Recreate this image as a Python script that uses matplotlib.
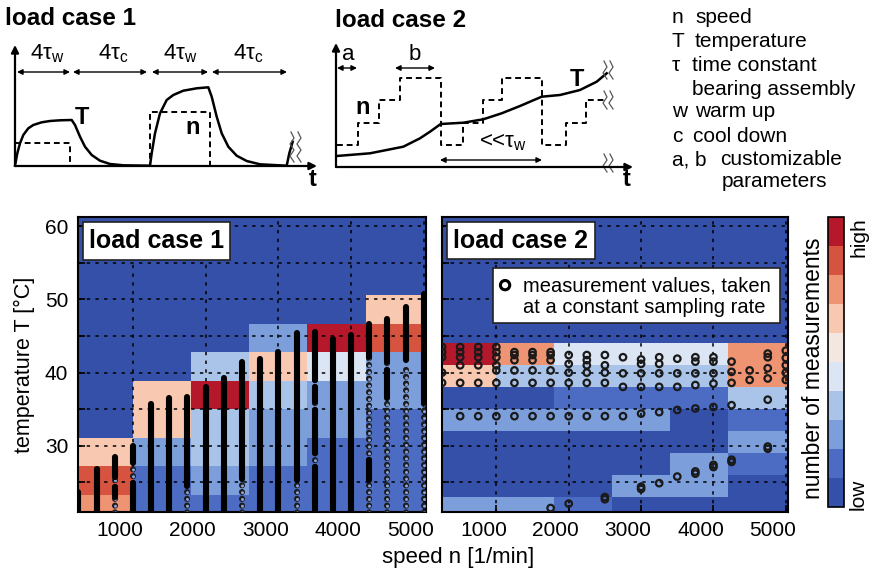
import numpy as np
import matplotlib
matplotlib.use('Agg')
import matplotlib.pyplot as plt
from matplotlib.colors import ListedColormap, BoundaryNorm
from matplotlib.cm import ScalarMappable
from matplotlib.patches import Rectangle
import matplotlib.transforms as mtransforms

plt.rcParams['font.family'] = ['Liberation Sans', 'DejaVu Sans']
plt.rcParams['mathtext.fontset'] = 'custom'
plt.rcParams['mathtext.rm'] = 'Liberation Sans'
plt.rcParams['mathtext.it'] = 'Liberation Sans:italic'
plt.rcParams['mathtext.bf'] = 'Liberation Sans:bold'

# ---------------------------------------------------------------- data
level_colors = ['#3550a9', '#4b6cc2', '#7c9fdc', '#aac4e9', '#dce5f3',
                '#f4e6e0', '#f8c8b1', '#ee9472', '#d6543f', '#b5172b']

speed_edges = [0, 1000, 1800, 2600, 3400, 4200, 5100]

lc1_temp_edges = [19.4, 23.3, 27.2, 31.1, 35.0, 38.9, 42.8, 46.7, 50.6, 54.5, 58.4, 62.3]
lc1_levels = [
    [7, 1, 1, 1, 1, 1],
    [8, 1, 2, 1, 1, 1],
    [6, 2, 3, 2, 1, 1],
    [0, 6, 3, 2, 2, 1],
    [0, 6, 9, 3, 2, 2],
    [0, 0, 3, 6, 4, 2],
    [0, 0, 0, 2, 9, 8],
    [0, 0, 0, 0, 0, 6],
    [0, 0, 0, 0, 0, 0],
    [0, 0, 0, 0, 0, 0],
    [0, 0, 0, 0, 0, 0],
]

lc2_temp_edges = [17, 20, 23, 26, 29, 32, 35, 38, 41, 44, 62.3]
lc2_levels = [
    [0, 0, 0, 0, 0, 0],
    [2, 2, 1, 0, 0, 0],
    [0, 0, 0, 2, 2, 0],
    [0, 0, 0, 0, 2, 1],
    [0, 0, 0, 0, 0, 2],
    [2, 2, 2, 2, 0, 1],
    [0, 0, 1, 1, 1, 3],
    [6, 3, 3, 3, 3, 7],
    [9, 7, 4, 4, 4, 7],
    [0, 0, 0, 0, 0, 0],
]

# load case 1 measurement columns (dense / sparse temperature ranges per speed)
lc1_speeds = [250, 500, 750, 1000, 1250, 1500, 1750, 2000, 2250, 2500,
              2750, 3000, 3250, 3500, 3750, 4000, 4250, 4500, 4750, 5000]
lc1_dense = [
    [(19, 23.7)],
    [(19, 26.8)],
    [(25.8, 28.5), (23.0, 24.4)],
    [(27.6, 30.0), (19, 24.9)],
    [(19, 35.7)],
    [(19, 36.5)],
    [(24.5, 36.7)],
    [(19, 38.1)],
    [(19, 39.2)],
    [(25.4, 41.4)],
    [(19, 41.9)],
    [(19, 42.8)],
    [(25.3, 45.4)],
    [(39.0, 45.6), (36.0, 38.0), (29.0, 34.9), (19, 27.1)],
    [(19, 44.6)],
    [(19, 45.1)],
    [(42.1, 46.7), (25.3, 28.0)],
    [(41.4, 47.3), (36.6, 40.3)],
    [(41.7, 49.0)],
    [(35.8, 50.8)],
]
lc1_sparse = [
    [], [], [(19, 23.0), (24.4, 25.8)], [(24.9, 27.6)], [], [], [(19, 24.5)], [], [],
    [(19, 25.4)], [], [], [(19, 25.3)],
    [(38.0, 39.0), (34.9, 36.0), (27.1, 29.0)], [], [],
    [(28.0, 42.1), (19, 25.3)], [(19, 36.6), (40.3, 41.4)], [(19, 40.8)], [(19, 35.8)],
]

# load case 2 measurement points (speed -> temperatures)
lc2_speeds = [250, 500, 750, 1000, 1250, 1500, 1750, 2000, 2250, 2500,
              2750, 3000, 3250, 3500, 3750, 4000, 4250, 4500, 4750, 5000]
lc2_temps = [
    [43.5, 42.8, 42.1, 40.0, 38.6],
    [43.5, 42.8, 42.1, 41.0, 38.6, 34.05],
    [43.5, 42.8, 42.1, 41.0, 38.6, 34.05],
    [43.5, 42.8, 42.1, 41.0, 40.3, 38.6, 34.05],
    [42.8, 42.4, 41.7, 40.3, 38.6, 34.05],
    [42.8, 42.4, 41.7, 40.3, 38.6, 34.05],
    [42.8, 42.4, 41.7, 40.3, 38.6, 34.05, 21.5],
    [42.4, 41.2, 40.0, 38.6, 34.05, 22.1],
    [42.4, 41.7, 41.0, 40.0, 38.6, 34.05],
    [42.4, 41.0, 40.0, 38.6, 34.05, 23.0, 22.7],
    [42.1, 39.9, 38.05, 34.05],
    [41.8, 41.2, 39.9, 38.05, 34.4, 24.4, 24.1],
    [42.1, 41.2, 39.9, 38.05, 34.6, 24.9],
    [41.9, 39.9, 38.05, 34.9, 25.8],
    [42.1, 41.5, 39.9, 38.3, 35.1, 26.5, 26.2],
    [42.1, 41.5, 39.9, 38.5, 35.3, 27.4, 27.1],
    [41.5, 40.1, 38.6, 35.55, 28.1, 27.8],
    [40.3, 39.0],
    [42.6, 42.1, 40.6, 39.2, 36.3, 29.9, 29.6],
    [43.0, 42.0, 41.0, 40.0, 39.0],
]

x_ticks = [1000, 2000, 3000, 4000, 5000]
y_ticks = [25, 30, 35, 40, 45, 50, 55, 60]
y_ticklabels = ['', '30', '', '40', '', '50', '', '60']

# schematic curves (drawing units)
sch1_T_t = [0, 2.3, 5, 8.3, 13.3, 18.3, 26.7, 35, 45, 56.7, 60, 65, 70, 76.7, 85, 95, 108.3,
            135, 136.7, 140, 145, 151.7, 158.3, 168.3, 181.7, 193.3, 196.7, 201.7, 206.7,
            213.3, 221.7, 231.7, 245, 271.7, 274.3, 277.7]
sch1_T_v = [0.3, 12.7, 22.7, 31, 37.7, 41, 43.7, 45, 45.7, 46, 41, 29.3, 19.3, 11, 5.3, 2, 0.7,
            0.3, 12.7, 32.7, 52.7, 66, 71, 75.3, 77.7, 78.7, 69.3, 49.3, 32.7,
            19.3, 10.3, 5, 1.7, 0.3, 12.7, 24.3]
sch1_n_t = [0, 55, 55, 135, 135, 195, 195, 272]
sch1_n_v = [22.7, 22.7, 0, 0, 54.3, 54.3, 0, 0]

sch2_n_t = [0.7, 22.3, 22.3, 43.3, 43.3, 64, 64, 104.7, 104.7, 127.3, 127.3, 146.7, 146.7,
            165.7, 165.7, 205.7, 205.7, 230, 230, 250, 250, 269]
sch2_n_v = [22, 22, 43.7, 43.7, 67, 67, 89.3, 89.3, 22, 22, 43.7, 43.7, 67, 67, 89.3, 89.3,
            22, 22, 43.7, 43.7, 67, 67]
sch2_T_t = [0.7, 34, 67.3, 84, 94, 104.7, 127.3, 147.3, 165.7, 184, 205.7, 224, 244, 260.7, 270.7]
sch2_T_v = [11, 13.7, 20.3, 28.7, 35.3, 43, 44.3, 47.7, 53.7, 61, 70.3, 72, 77, 85.3, 93.7]

# ---------------------------------------------------------------- figure
W, H = 876, 573
fig = plt.figure(figsize=(W / 100, H / 100), dpi=100)


def ax_px(x0, y0, x1, y1):
    return fig.add_axes([x0 / W, 1 - y1 / H, (x1 - x0) / W, (y1 - y0) / H])


def ftext(x, y, s, **kw):
    fig.text(x / W, 1 - y / H, s, **kw)


cmap = ListedColormap(level_colors)
norm = BoundaryNorm(np.arange(-0.5, 10.5, 1), cmap.N)
XLIM = (245, 5030)
YLIM = (21, 61.3)
offset = mtransforms.ScaledTranslation(-13 / 100, 0, fig.dpi_scale_trans)


def style_panel(ax, show_ylabels):
    ax.set_xlim(*XLIM)
    ax.set_ylim(*YLIM)
    ax.set_xticks(x_ticks)
    ax.set_xticklabels([str(v) for v in x_ticks])
    ax.set_yticks(y_ticks)
    if show_ylabels:
        ax.set_yticklabels(y_ticklabels)
    else:
        ax.set_yticklabels([])
    ax.tick_params(direction='in', length=5, width=1.2, labelsize=15, pad=7,
                   colors='black')
    ax.grid(True, color='black', lw=1.1, linestyle=(0, (2.2, 3.5)))
    for sp in ax.spines.values():
        sp.set_linewidth(1.5)
    for t in ax.xaxis.get_major_ticks():
        t.label1.set_transform(t.label1.get_transform() + offset)


def box(ax, x0, y0, x1, y1):
    ax.add_patch(Rectangle((x0, y0), x1 - x0, y1 - y0, transform=ax.transAxes,
                           facecolor='white', edgecolor='#222222', lw=1.2, zorder=6))


# ---------------- load case 1 heat map
ax1 = ax_px(78, 216.7, 426, 511.7)
ax1.pcolormesh(speed_edges, lc1_temp_edges, np.array(lc1_levels), cmap=cmap, norm=norm,
               zorder=0)
for sp, dense, sparse in zip(lc1_speeds, lc1_dense, lc1_sparse):
    for lo, hi in sparse:
        ax1.plot([sp, sp], [lo, hi], color='#1c1c1c', lw=4.4,
                 linestyle=(0, (0.01, 1.1)), dash_capstyle='round', zorder=3)
        ax1.plot([sp, sp], [lo, hi], color='#8aa2dc', lw=2.2,
                 linestyle=(0, (0.01, 1.1 * 4.4 / 2.2)), dash_capstyle='round', zorder=3)
    for lo, hi in dense:
        ax1.plot([sp, sp], [lo, hi], color='black', lw=4.4, solid_capstyle='round',
                 zorder=3)
style_panel(ax1, True)
box(ax1, 0.0144, 0.853, 0.4368, 0.983)
ax1.text(0.2256, 0.918, 'load case 1', transform=ax1.transAxes, ha='center', va='center',
         fontsize=18, fontweight='bold', zorder=7)

# ---------------- load case 2 heat map
ax2 = ax_px(441.7, 216.7, 788, 511.7)
ax2.pcolormesh(speed_edges, lc2_temp_edges, np.array(lc2_levels), cmap=cmap, norm=norm,
               zorder=0)
px, py = [], []
for sp, temps in zip(lc2_speeds, lc2_temps):
    for t in temps:
        px.append(sp)
        py.append(t)
ax2.scatter(px, py, s=22, facecolors='none', edgecolors='#1a1a1a', linewidths=1.6, zorder=3)
style_panel(ax2, False)
box(ax2, 0.0144, 0.8556, 0.4427, 0.983)
ax2.text(0.2285, 0.919, 'load case 2', transform=ax2.transAxes, ha='center', va='center',
         fontsize=18, fontweight='bold', zorder=7)
box(ax2, 0.149, 0.6386, 0.977, 0.825)
ax2.scatter([0.183], [0.768], s=45, facecolors='none', edgecolors='black', linewidths=2.2,
            transform=ax2.transAxes, zorder=7, clip_on=False)
ax2.text(0.2348, 0.748, 'measurement values, taken', transform=ax2.transAxes,
         ha='left', va='baseline', fontsize=14.5, zorder=7)
ax2.text(0.2348, 0.674, 'at a constant sampling rate', transform=ax2.transAxes,
         ha='left', va='baseline', fontsize=14.5, zorder=7)

# axis labels
ftext(458, 563, 'speed n [1/min]', ha='center', va='baseline', fontsize=16)
ftext(24, 365, 'temperature T [°C]', ha='center', va='center', rotation=90, fontsize=15.5)

# ---------------- colour bar
cax = ax_px(828, 216.7, 844, 506.7)
cb = fig.colorbar(ScalarMappable(norm=norm, cmap=cmap), cax=cax, ticks=[])
cb.outline.set_linewidth(1.2)
cax.minorticks_off()
ftext(813.5, 368, 'number of measurements', ha='center', va='center', rotation=90,
      fontsize=16.5)
ftext(858.5, 237.5, 'high', ha='center', va='center', rotation=90, fontsize=15)
ftext(858, 494.5, 'low', ha='center', va='center', rotation=90, fontsize=15)

# ---------------- schematic load case 1
ftext(5, 25, 'load case 1', ha='left', va='baseline', fontsize=17.5, fontweight='bold')
s1 = ax_px(0, 30, 320, 200)
s1.set_xlim(-15, 305)
s1.set_ylim(-34, 136)
s1.axis('off')
arrow_kw = dict(arrowstyle='-|>', lw=1.6, color='black', mutation_scale=11,
                shrinkA=0, shrinkB=0)
s1.annotate('', xy=(0, 121), xytext=(0, 0), arrowprops=arrow_kw)
s1.annotate('', xy=(302, 0), xytext=(0, 0), arrowprops=arrow_kw)
s1.plot(sch1_T_t, sch1_T_v, color='black', lw=1.8, solid_joinstyle='round')
s1.plot(sch1_n_t, sch1_n_v, color='black', lw=1.4, linestyle=(0, (3, 2)))
dbl = dict(arrowstyle='<|-|>', lw=1.0, color='black', mutation_scale=8, shrinkA=0, shrinkB=0)
for (a, b), c, lab in zip([(2, 55), (58, 132), (137, 193), (197, 272)],
                          [32, 98, 165, 233],
                          ['4τ$_\\mathrm{w}$', '4τ$_\\mathrm{c}$', '4τ$_\\mathrm{w}$',
                           '4τ$_\\mathrm{c}$']):
    s1.annotate('', xy=(b, 94), xytext=(a, 94), arrowprops=dbl)
    s1.text(c, 101, lab, ha='center', va='bottom', fontsize=16)
s1.text(67, 48, 'T', ha='center', va='center', fontsize=17, fontweight='bold')
s1.text(178, 39, 'n', ha='center', va='center', fontsize=17, fontweight='bold')
s1.text(298, -14, 't', ha='center', va='center', fontsize=17, fontweight='bold')
wave_x = [0, 3, -1, 3, -1, 3]
wave_y = [0, -6, -12, -18, -24, -30]
for dx in (0, 7):
    s1.plot([276 + dx + w for w in wave_x], [34 + v for v in wave_y], color='#555555', lw=0.9,
            clip_on=False)

# ---------------- schematic load case 2
ftext(335, 27, 'load case 2', ha='left', va='baseline', fontsize=17.5, fontweight='bold')
s2 = ax_px(320, 30, 640, 200)
s2.set_xlim(-16, 304)
s2.set_ylim(-33, 137)
s2.axis('off')
s2.annotate('', xy=(0, 124), xytext=(0, 0), arrowprops=arrow_kw)
s2.annotate('', xy=(297, 0), xytext=(0, 0), arrowprops=arrow_kw)
s2.plot(sch2_T_t, sch2_T_v, color='black', lw=1.8, solid_joinstyle='round')
s2.plot(sch2_n_t, sch2_n_v, color='black', lw=1.4, linestyle=(0, (3, 2)))
s2.annotate('', xy=(21, 99), xytext=(1, 99), arrowprops=dbl)
s2.annotate('', xy=(99, 99), xytext=(59, 99), arrowprops=dbl)
s2.annotate('', xy=(206, 7), xytext=(104, 7), arrowprops=dbl)
s2.text(12, 112, 'a', ha='center', va='center', fontsize=16)
s2.text(79, 112, 'b', ha='center', va='center', fontsize=16)
s2.text(167, 24, '<<τ$_\\mathrm{w}$', ha='center', va='center', fontsize=16)
s2.text(27, 60, 'n', ha='center', va='center', fontsize=17, fontweight='bold')
s2.text(241, 87, 'T', ha='center', va='center', fontsize=17, fontweight='bold')
s2.text(291, -13, 't', ha='center', va='center', fontsize=17, fontweight='bold')
for cy in (106, 76, 13):
    for dx in (0, 6):
        s2.plot([268 + dx + w for w in wave_x[:4]], [cy + v for v in wave_y[:4]],
                color='#555555', lw=0.9, clip_on=False)

# ---------------- legend text (top right)
legend_lines = [
    (672, 23, 'n'), (695, 23, 'speed'),
    (672, 47, 'T'), (695, 47, 'temperature'),
    (672, 71, 'τ'), (692, 71, 'time constant'),
    (692, 95, 'bearing assembly'),
    (672, 117, 'w'), (695, 117, 'warm up'),
    (672, 142, 'c'), (693, 142, 'cool down'),
    (672, 165, 'a, b'), (720, 165, 'customizable'),
    (722, 187, 'parameters'),
]
for x, y, s in legend_lines:
    ftext(x, y, s, ha='left', va='baseline', fontsize=15)

fig.savefig('out.png', dpi=100)
